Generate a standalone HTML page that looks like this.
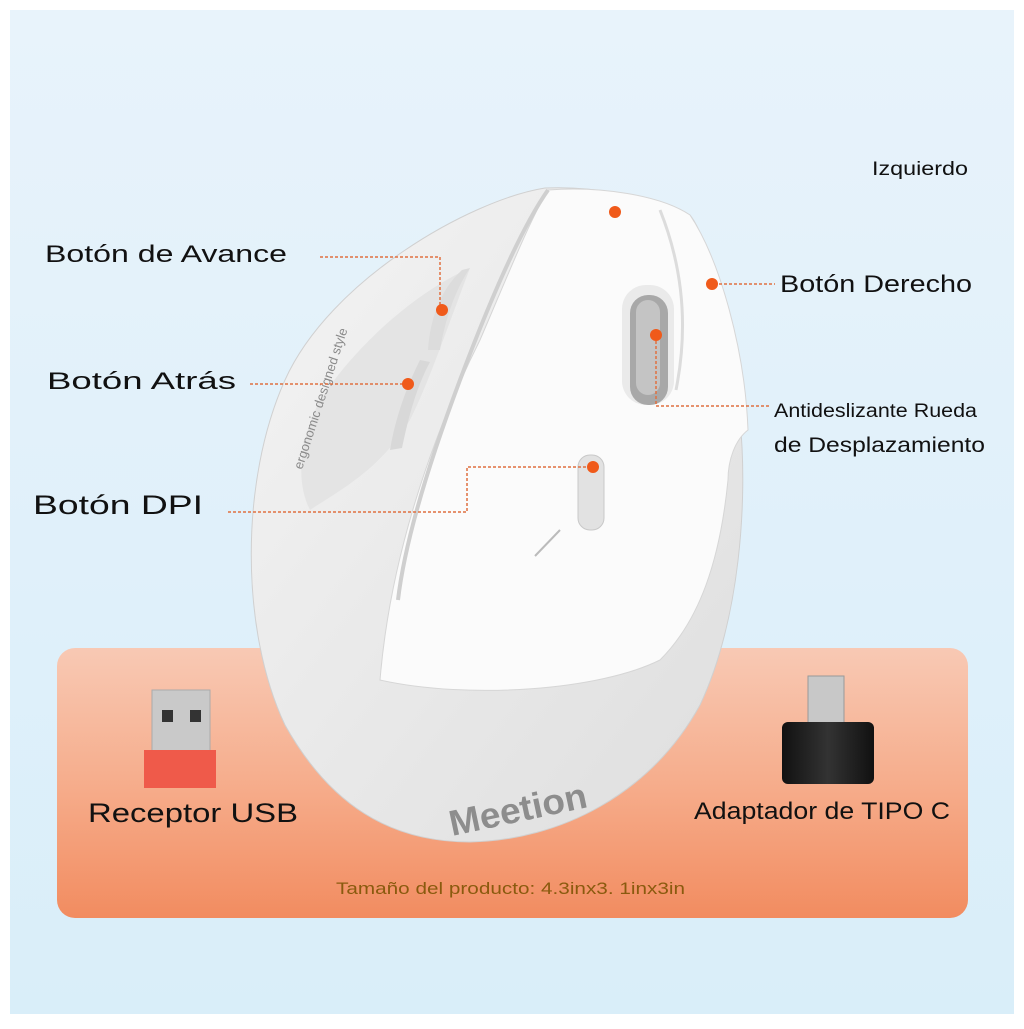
<!DOCTYPE html>
<html><head><meta charset="utf-8"><style>
body{margin:0;width:1024px;height:1024px;overflow:hidden;background:#fff;font-family:"Liberation Sans",sans-serif}
</style></head><body>
<svg width="1024" height="1024" viewBox="0 0 1024 1024" xmlns="http://www.w3.org/2000/svg">
<defs>
<linearGradient id="bg" x1="0" y1="0" x2="0" y2="1"><stop offset="0" stop-color="#e8f3fb"/><stop offset="1" stop-color="#d9eef9"/></linearGradient>
<linearGradient id="or" x1="0" y1="0" x2="0" y2="1"><stop offset="0" stop-color="#f8c9b4"/><stop offset="0.5" stop-color="#f6ad8c"/><stop offset="1" stop-color="#f28c60"/></linearGradient>
<linearGradient id="body" x1="0" y1="0" x2="1" y2="1"><stop offset="0" stop-color="#f4f4f4"/><stop offset="1" stop-color="#dedede"/></linearGradient>
<linearGradient id="blk" x1="0" y1="0" x2="1" y2="0"><stop offset="0" stop-color="#111"/><stop offset="0.5" stop-color="#333"/><stop offset="1" stop-color="#111"/></linearGradient>
</defs>
<rect x="10" y="10" width="1004" height="1004" fill="url(#bg)"/>
<rect x="57" y="648" width="911" height="270" rx="18" fill="url(#or)"/>
<path d="M545 188 C470 200 330 280 285 380 C240 480 240 630 285 725 C330 805 390 842 470 842 C560 840 650 795 700 705 C740 620 748 500 740 420 C730 330 710 240 690 215 C650 195 590 186 545 188 Z" fill="url(#body)" stroke="#d0d0d0"/>
<path d="M470 268 C420 290 360 340 320 400 C300 440 295 480 310 510 C340 490 380 470 410 420 C430 380 450 320 470 268 Z" fill="#e4e4e4"/>
<path d="M462 270 C440 290 430 320 428 350 L440 350 C445 320 455 290 470 268Z" fill="#dcdcdc"/>
<path d="M420 360 C405 390 395 420 390 450 L402 448 C408 420 415 390 430 362Z" fill="#d8d8d8"/>
<path d="M548 190 C600 186 660 195 690 215 C720 260 745 350 748 430 C735 440 728 460 728 480 C720 560 700 620 660 660 C600 690 470 700 380 680 C390 560 430 440 480 340 C510 270 530 220 548 190 Z" fill="#fbfbfb" stroke="#d6d6d6"/>
<path d="M548 190 C520 230 490 300 460 380 C430 460 405 540 398 600" fill="none" stroke="#cfcfcf" stroke-width="4"/>
<path d="M660 210 C680 260 690 320 676 390" fill="none" stroke="#dcdcdc" stroke-width="3"/>
<rect x="622" y="285" width="52" height="120" rx="24" fill="#eaeaea"/>
<rect x="630" y="295" width="38" height="110" rx="18" fill="#a8a8a8"/>
<rect x="636" y="300" width="24" height="95" rx="12" fill="#c4c4c4"/>
<rect x="578" y="455" width="26" height="75" rx="12" fill="#e2e2e2" stroke="#c8c8c8"/>
<line x1="560" y1="530" x2="535" y2="556" stroke="#bbb" stroke-width="2"/>
<text x="0" y="0" transform="translate(302,470) rotate(-72)" font-size="13" fill="#8a8a8a" font-family="Liberation Sans">ergonomic designed style</text>
<text x="0" y="0" transform="translate(452,836) rotate(-12)" font-size="36" font-weight="bold" fill="#8d8d8d" font-family="Liberation Sans" textLength="140" lengthAdjust="spacingAndGlyphs">Meetion</text>
<rect x="152" y="690" width="58" height="62" fill="#c9c9c9" stroke="#aaa"/>
<rect x="162" y="710" width="11" height="12" fill="#333"/><rect x="190" y="710" width="11" height="12" fill="#333"/>
<rect x="144" y="750" width="72" height="38" fill="#ef5a4a"/>
<rect x="808" y="676" width="36" height="50" fill="#c8c8c8" stroke="#999"/>
<rect x="782" y="722" width="92" height="62" rx="6" fill="url(#blk)"/>
<g font-family="Liberation Sans" fill="#111">
<text x="88" y="822" font-size="27" textLength="210" lengthAdjust="spacingAndGlyphs">Receptor USB</text>
<text x="694" y="819" font-size="24" textLength="256" lengthAdjust="spacingAndGlyphs">Adaptador de TIPO C</text>
<text x="872" y="175" font-size="19" textLength="96" lengthAdjust="spacingAndGlyphs">Izquierdo</text>
<text x="45" y="262" font-size="24" textLength="242" lengthAdjust="spacingAndGlyphs">Botón de Avance</text>
<text x="47" y="389" font-size="24" textLength="189" lengthAdjust="spacingAndGlyphs">Botón Atrás</text>
<text x="33" y="514" font-size="27" textLength="170" lengthAdjust="spacingAndGlyphs">Botón DPI</text>
<text x="780" y="292" font-size="24" textLength="192" lengthAdjust="spacingAndGlyphs">Botón Derecho</text>
<text x="774" y="417" font-size="19" textLength="203" lengthAdjust="spacingAndGlyphs">Antideslizante Rueda</text>
<text x="774" y="452" font-size="21" textLength="211" lengthAdjust="spacingAndGlyphs">de Desplazamiento</text>
</g>
<text x="336" y="894" font-size="17" fill="#8a5a0e" font-family="Liberation Sans" textLength="349" lengthAdjust="spacingAndGlyphs">Tamaño del producto: 4.3inx3. 1inx3in</text>
<g fill="none" stroke="#e07040" stroke-width="1.5" stroke-dasharray="3,2">
<path d="M320 257 H440 V308"/>
<path d="M250 384 H408"/>
<path d="M228 512 H467 V467 H592"/>
<path d="M714 284 H775"/>
<path d="M656 336 V406 H770"/>
</g>
<g fill="#f05a1a">
<circle cx="615" cy="212" r="6"/><circle cx="442" cy="310" r="6"/><circle cx="408" cy="384" r="6"/>
<circle cx="712" cy="284" r="6"/><circle cx="656" cy="335" r="6"/><circle cx="593" cy="467" r="6"/>
</g>
</svg>
</body></html>
